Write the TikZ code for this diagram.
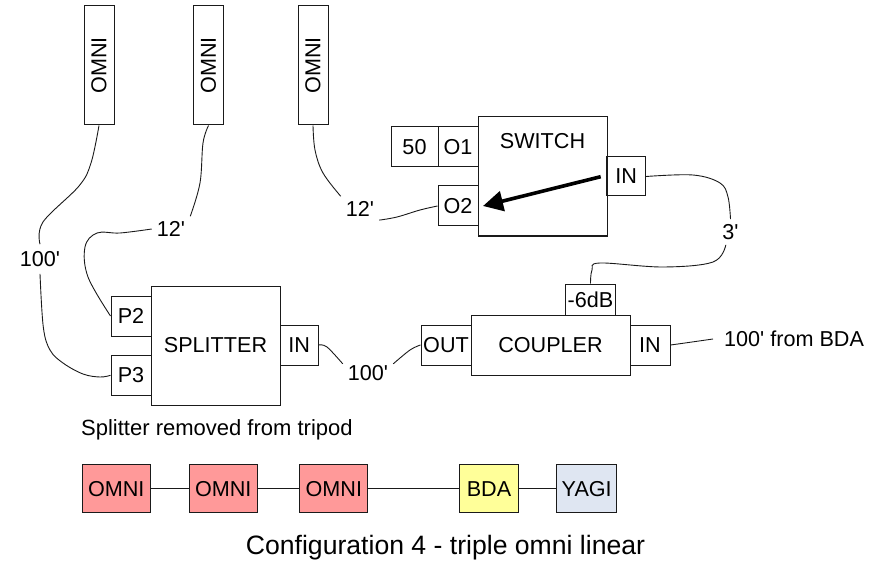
\documentclass[tikz,border=0pt]{standalone}
\usepackage{fontspec}
\setmainfont{Liberation Sans}[Ligatures=TeXOff]
\usetikzlibrary{arrows.meta}
\definecolor{omnired}{HTML}{FF9999}
\definecolor{bdayellow}{HTML}{FFFF99}
\definecolor{yagiblue}{HTML}{DFE6F2}
\definecolor{ink}{HTML}{1A1A1A}
\tikzset{
  txt/.style={font=\fontsize{21.6}{24}\selectfont, text=black},
  box/.style={draw=ink, line width=1pt, inner sep=0pt, txt},
  rowbox/.style={box, minimum height=47.5pt},
  omnibar/.style={box, minimum width=30pt, minimum height=119pt},
  port/.style={box, minimum width=40pt, minimum height=40pt},
  block/.style={box, minimum width=129pt, minimum height=119pt},
  cable/.style={draw=ink, line width=.9pt},
  lbl/.style={txt, inner sep=5pt},
  pointer/.style={line width=3.6pt, black, -{Triangle[length=20pt,width=20pt]}},
}
\begin{document}
\begin{tikzpicture}[x=1pt,y=-1pt]
\useasboundingbox (0,0) rectangle (885,561);
% antennas
\node[omnibar] (o1) at (99,65.5) {\rotatebox{90}{OMNI}};
\node[omnibar] (o2) at (208.5,65.5) {\rotatebox{90}{OMNI}};
\node[omnibar] (o3) at (313,65.5) {\rotatebox{90}{OMNI}};
% switch
\node[box, minimum width=129pt, minimum height=119pt] (sw) at (542.5,176.5) {};
\node[txt] (swt) at (542.5,141) {SWITCH};
\node[port] (so1) at (458,147) {O1};
\node[port, minimum width=47pt] (s50) at (414.5,147) {50};
\node[port] (so2) at (458,206) {O2};
\node[port, minimum width=38.5pt, minimum height=39pt] (sin) at (626.2,176.5) {IN};
\coordinate (pfrom) at (600.7,176.7);
\coordinate (pto) at (483,206);
\draw[pointer] (pfrom) -- (pto);
% splitter
\node[block] (sp) at (215.5,345.5) {SPLITTER};
\node[port] (p2) at (131,316) {P2};
\node[port] (p3) at (131,375.3) {P3};
\node[port, minimum width=38pt] (spin) at (299.2,345) {IN};
% coupler
\node[box, minimum width=159pt, minimum height=60pt] (cp) at (550.5,345) {COUPLER};
\node[port, minimum width=50pt] (out) at (446,345) {OUT};
\node[port] (cin) at (650,345) {IN};
\node[box, minimum width=49.5pt, minimum height=31pt] (db) at (590.5,299.5) {-6dB};
% cable labels
\node[lbl, inner sep=7pt] (l100a) at (40,259) {100'};
\node[lbl] (l12a) at (171,229) {12'};
\node[lbl] (l12b) at (360,209) {12'};
\node[lbl] (l3) at (730.5,232) {3'};
\node[lbl] (l100b) at (368,373) {100'};
\node[txt, anchor=west, inner sep=11pt] (lbda) at (713,339) {100' from BDA};
% cables
\draw[cable] plot[smooth,tension=.6] coordinates {(o1.south) (91,163) (79,186) (43,222) (l100a.north)};
\draw[cable] plot[smooth,tension=.6] coordinates {(l100a.south) (43.3,327) (50,350) (63,363) (83,374) (100,377) (p3.west)};
\draw[cable] plot[smooth,tension=.6] coordinates {(o2.south) (203,143) (200,183) (l12a.north east)};
\draw[cable] plot[smooth,tension=.6] coordinates {(l12a.west) (120,233) (97,233) (85,247) (88,277) (p2.west)};
\draw[cable] plot[smooth,tension=.6] coordinates {(o3.south) (315,150) (323,173) (l12b.north west)};
\draw[cable] plot[smooth,tension=.6] coordinates {(l12b.-30) (397,217) (420,210) (so2.west)};
\draw[cable] plot[smooth,tension=.6] coordinates {(sin.east) (693,175) (720,183) (728,197) (l3.north)};
\draw[cable] plot[smooth,tension=.6] coordinates {(l3.-110) (713,262) (663,267) (600,263) (592,270) (db.north)};
\draw[cable] plot[smooth,tension=.6] coordinates {(spin.east) (327,347) (l100b.160)};
\draw[cable] plot[smooth,tension=.6] coordinates {(l100b.20) (410,350) (out.west)};
\draw[cable] plot[smooth,tension=.6] coordinates {(cin.east) (685,343) (lbda.west)};
% note
\node[anchor=base west, inner sep=0pt, font=\fontsize{22}{24}\selectfont] (note) at (81,435) {Splitter removed from tripod};
% legend row
\node[rowbox, fill=omnired, minimum width=68pt] (r1) at (116.2,488.7) {OMNI};
\node[rowbox, fill=omnired, minimum width=68pt] (r2) at (223.3,488.7) {OMNI};
\node[rowbox, fill=omnired, minimum width=68pt] (r3) at (333.8,488.7) {OMNI};
\node[rowbox, fill=bdayellow, minimum width=59.5pt] (r4) at (489,488.7) {BDA};
\node[rowbox, fill=yagiblue, minimum width=60pt] (r5) at (586.7,488.7) {YAGI};
\draw[cable] (r1) -- (r2);
\draw[cable] (r2) -- (r3);
\draw[cable] (r3) -- (r4);
\draw[cable] (r4) -- (r5);
% caption
\node[anchor=base, inner sep=0pt, font=\fontsize{26.6}{30}\selectfont] (cap) at (445.5,554) {Configuration 4 - triple omni linear};
\end{tikzpicture}
\end{document}
